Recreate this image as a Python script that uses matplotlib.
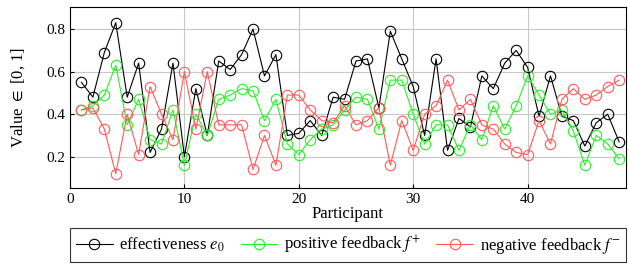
import matplotlib
matplotlib.use("Agg")
import matplotlib.pyplot as plt

participants = list(range(1, 49))
effectiveness = [0.55, 0.48, 0.69, 0.83, 0.48, 0.64, 0.22, 0.33, 0.64, 0.20,
                 0.52, 0.30, 0.65, 0.61, 0.68, 0.80, 0.58, 0.68, 0.30, 0.31,
                 0.37, 0.30, 0.48, 0.47, 0.65, 0.66, 0.43, 0.79, 0.66, 0.53,
                 0.30, 0.66, 0.23, 0.38, 0.34, 0.58, 0.52, 0.64, 0.70, 0.62,
                 0.39, 0.58, 0.39, 0.37, 0.25, 0.36, 0.40, 0.27]
positive = [0.42, 0.44, 0.49, 0.63, 0.35, 0.47, 0.28, 0.26, 0.42, 0.16,
            0.40, 0.30, 0.47, 0.49, 0.52, 0.51, 0.37, 0.47, 0.26, 0.21,
            0.28, 0.33, 0.35, 0.42, 0.48, 0.47, 0.33, 0.56, 0.56, 0.40,
            0.26, 0.35, 0.35, 0.23, 0.35, 0.28, 0.44, 0.33, 0.44, 0.58,
            0.49, 0.40, 0.42, 0.32, 0.16, 0.30, 0.26, 0.19]
negative = [0.42, 0.43, 0.33, 0.12, 0.40, 0.21, 0.53, 0.40, 0.28, 0.60,
            0.33, 0.60, 0.35, 0.35, 0.35, 0.14, 0.30, 0.16, 0.49, 0.49,
            0.42, 0.37, 0.36, 0.44, 0.35, 0.37, 0.43, 0.16, 0.37, 0.23,
            0.40, 0.44, 0.56, 0.42, 0.47, 0.35, 0.33, 0.26, 0.22, 0.21,
            0.37, 0.26, 0.47, 0.52, 0.47, 0.49, 0.53, 0.56]
x_ticks = [0, 10, 20, 30, 40]
y_ticks = [0.2, 0.4, 0.6, 0.8]
labels = [r"effectiveness $e_0$", r"positive feedback $f^{+}$", r"negative feedback $f^{-}$"]

plt.rcParams['font.family'] = ['Liberation Serif', 'DejaVu Serif']
plt.rcParams['mathtext.fontset'] = 'stix'

fig = plt.figure(figsize=(6.28, 2.66), dpi=100)
ax = fig.add_axes([70/628, 1 - 188/266, (626-70)/628, (188-7)/266])

colors = ['black', (0.15, 0.95, 0.15), (1.0, 0.35, 0.35)]
handles = []
for ys, c, lab in zip([effectiveness, positive, negative], colors, labels):
    h, = ax.plot(participants, ys, color=c, lw=0.8, marker='o', ms=7.5,
                 mfc='none', mec=c, mew=0.8, label=lab)
    handles.append(h)

ax.set_xlim(0, 48.6)
ax.set_ylim(0.053, 0.904)
ax.set_xticks(x_ticks)
ax.set_yticks(y_ticks)
ax.set_yticklabels([f"{v:.1f}" for v in y_ticks])
ax.grid(True, color='#c8c8c8', lw=0.8)
ax.set_axisbelow(True)
ax.tick_params(direction='in', labelsize=11, length=3)
for s in ax.spines.values():
    s.set_linewidth(0.8)
ax.set_xlabel("Participant", fontsize=12, labelpad=0)
ax.set_ylabel(r"Value $\in$ [0, 1]", fontsize=12, labelpad=14)

leg = fig.legend(handles=handles, loc='lower left',
                 bbox_to_anchor=(70/628, 4/266, (626-70)/628, 34/266),
                 mode='expand', ncol=3, fontsize=12, frameon=True,
                 fancybox=False, edgecolor='black', handlelength=2.2,
                 handletextpad=0.4, columnspacing=0.5, borderpad=0.35,
                 borderaxespad=0)
leg.get_frame().set_linewidth(0.8)

fig.savefig("out.png", dpi=100)
